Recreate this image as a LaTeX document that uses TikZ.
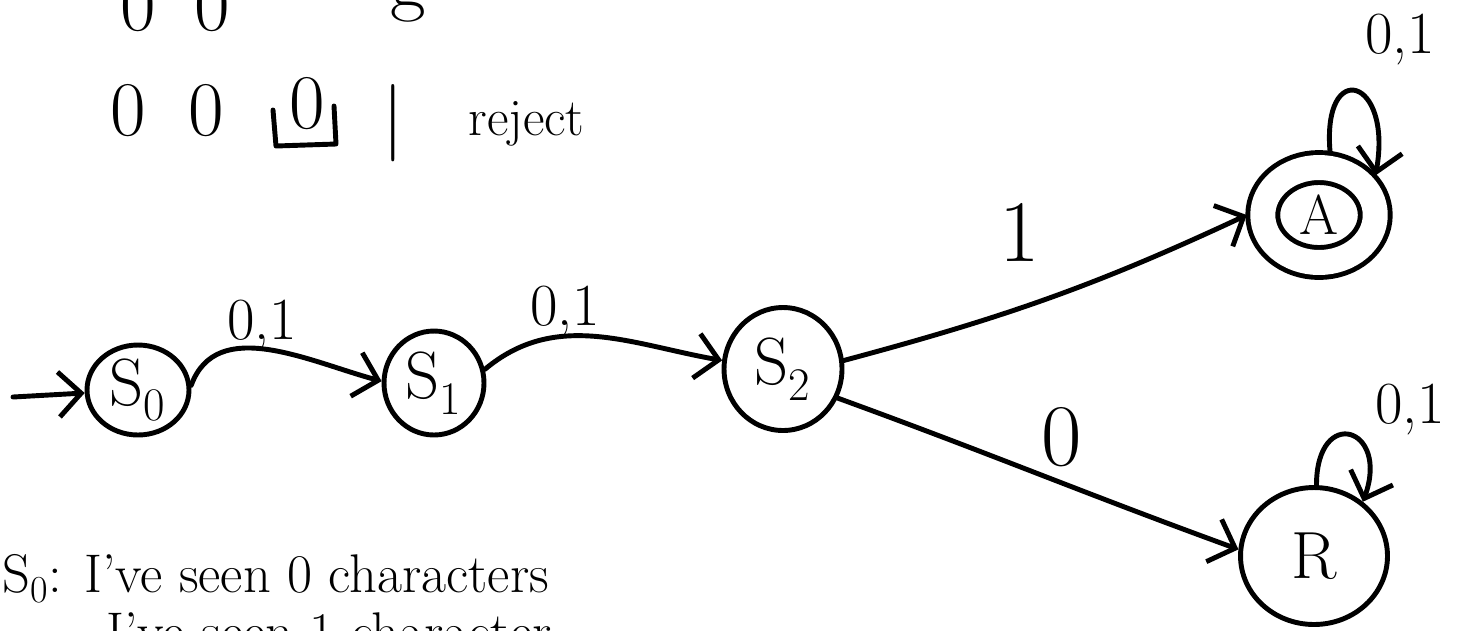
\documentclass[tikz,border=0pt]{standalone}
\usetikzlibrary{arrows.meta,shapes.geometric}
\begin{document}
\begin{tikzpicture}[x=0.02cm,y=-0.02cm,line width=2.8pt,line cap=round,line join=round,
	state/.style={draw,ellipse,inner sep=0pt,font=\fontsize{38}{44}\selectfont},
	accept/.style={state,double,double distance=0.5cm,outer sep=0.32cm,font=\fontsize{32}{38}\selectfont},
	trans/.style={-{Straight Barb[length=4.5mm,width=9mm]}},
	lab/.style={font=\fontsize{34}{40}\selectfont,inner sep=0pt},
	big/.style={font=\fontsize{50}{56}\selectfont,inner sep=0pt},
	note/.style={font=\fontsize{31}{37}\selectfont,anchor=base west,inner sep=0pt},
	tape/.style={font=\fontsize{44}{50}\selectfont,anchor=base west,inner sep=0pt}]

\useasboundingbox (0,0) rectangle (1462,630);

\node[tape] (top00) at (118,30) {0\hspace{0.5em}0};
\node[tape] (topg) at (388,6) {g};

\node[tape] (tape00) at (108,135) {0\hspace{0.55em}0};
\node[tape] (blank) at (287,128) {0};
\draw (273,110) -- (276,146) -- (336,144) -- (334,106);
\node[tape] (bar) at (380,142) {|};
\node[note,font=\fontsize{30}{36}\selectfont] (reject) at (466,135) {reject};

\node[state,minimum width=2.04cm,minimum height=1.8cm] (s0) at (138,390) {S\textsubscript{0}};
\node[state,minimum width=2.0cm,minimum height=2.08cm] (s1) at (434,383) {S\textsubscript{1}};
\node[state,minimum width=2.36cm,minimum height=2.46cm] (s2) at (783,369) {S\textsubscript{2}};
\node[accept,minimum width=2.25cm,minimum height=1.9cm] (A) at (1319,215) {A};
\node[state,minimum width=2.94cm,minimum height=2.74cm] (R) at (1314,556) {R};

\coordinate (start) at (13,397);
\draw[trans] (start) -- (s0);
\draw[trans] (s0.5) to[out=70,in=165] (s1.178);
\draw[trans] (s1.15) to[out=40,in=170] (s2.172);
\draw[trans] (s2.8) to[out=15,in=205] (A.180);
\draw[trans] (s2.-28) to[out=-20,in=160] (R.175);
\draw[trans] (A.80) .. controls +(95:1.9cm) and +(80:2cm) .. (A.35);
\draw[trans] (R.88) .. controls +(90:1.6cm) and +(70:1.6cm) .. (R.48);

\node[lab] (l01) at (262,326) {0,1};
\node[lab] (l12) at (565,312) {0,1};
\node[big] (l2A) at (1020,232) {1};
\node[big] (l2R) at (1062,437) {0};
\node[lab] (lAA) at (1400,40) {0,1};
\node[lab] (lRR) at (1410,410) {0,1};

\node[note] (says0) at (0,592) {S\textsubscript{0}: I've seen 0 characters};
\node[note] (says1) at (104,650) {I've seen 1 character};

\end{tikzpicture}
\end{document}
